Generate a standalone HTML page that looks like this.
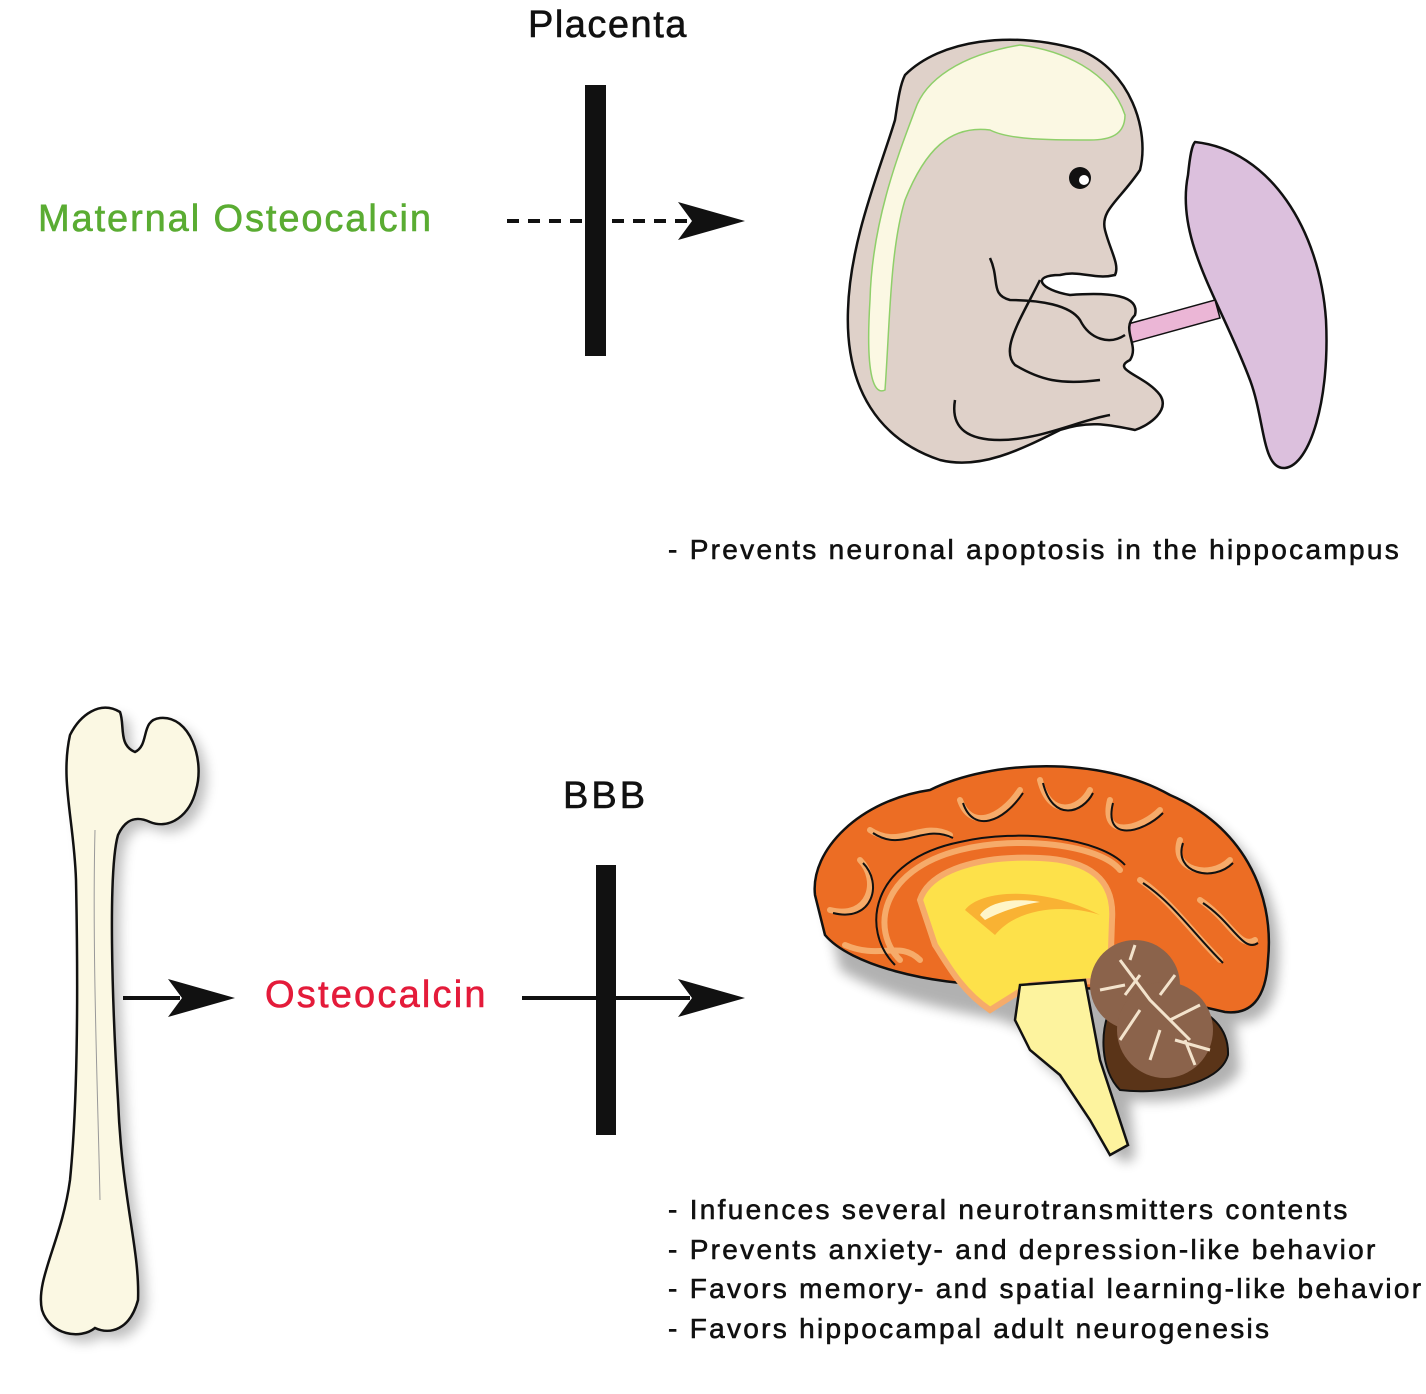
<!DOCTYPE html>
<html><head><meta charset="utf-8"><style>
html,body{margin:0;padding:0;background:#fff}
body{width:1426px;height:1394px;position:relative;overflow:hidden;font-family:"Liberation Sans",sans-serif}
.t{position:absolute;white-space:nowrap;-webkit-text-stroke:0.6px currentColor}
.lst{position:absolute;left:668px;font-size:28px;color:#111;letter-spacing:2.3px;line-height:39.5px;white-space:nowrap;-webkit-text-stroke:0.6px #111}
</style></head><body>
<svg width="1426" height="1394" style="position:absolute;left:0;top:0">
<defs><filter id="sh" x="-20%" y="-20%" width="140%" height="140%"><feGaussianBlur stdDeviation="6"/></filter></defs>
<rect x="585" y="85" width="21" height="271" fill="#111"/>
<line x1="507" y1="221" x2="690" y2="221" stroke="#111" stroke-width="4" stroke-dasharray="12,9"/>
<path d="M745,221 L678,202 L692,221 L678,240 Z" fill="#111"/>
<path d="M1195,142 C1270,150 1320,230 1326,320 C1330,400 1310,465 1285,468 C1262,470 1265,420 1250,380 C1220,300 1175,240 1188,175 C1190,155 1192,145 1195,142 Z" fill="#dcc0dd" stroke="#111" stroke-width="2.5"/>
<path d="M1070,340 L1215,300 L1220,318 L1075,358 Z" fill="#ebb6d6" stroke="#111" stroke-width="1.5"/>
<path d="M905,75 C940,40 1010,30 1080,50 C1130,70 1150,130 1140,170 C1120,200 1100,210 1105,230 C1110,250 1120,265 1115,275 C1095,280 1080,270 1060,275 C1030,275 1040,290 1070,295 C1110,292 1140,295 1135,315 C1120,330 1140,345 1130,360 C1110,370 1145,375 1160,395 C1170,410 1150,425 1135,430 C1110,425 1090,420 1060,430 C1020,450 980,470 940,460 C880,440 845,390 848,310 C850,240 880,170 895,120 C898,100 900,85 905,75 Z" fill="#dfd1c9" stroke="#111" stroke-width="2.5"/>
<path d="M870,300 C872,220 900,150 915,110 C925,80 960,55 1020,45 C1060,50 1110,70 1125,115 C1125,135 1110,140 1090,140 C1050,140 1010,140 990,130 C950,125 925,150 905,200 C890,250 890,320 885,390 C875,395 865,380 870,300 Z" fill="#fbf8e3" stroke="#8fcf6a" stroke-width="1.5"/>
<path d="M1040,280 C1020,320 1000,350 1015,365 C1040,380 1060,385 1100,380" fill="none" stroke="#111" stroke-width="2.5"/>
<path d="M955,400 C950,430 970,440 1000,440 C1040,440 1080,420 1110,415" fill="none" stroke="#111" stroke-width="2.5"/>
<path d="M990,258 C1000,280 990,295 1010,300 C1040,300 1070,305 1080,320 C1090,340 1110,345 1125,335" fill="none" stroke="#111" stroke-width="2.5"/>
<circle cx="1080" cy="178" r="11" fill="#111"/><circle cx="1084" cy="180" r="5" fill="#fff"/>
<rect x="596" y="865" width="20" height="270" fill="#111"/>
<line x1="522" y1="998" x2="690" y2="998" stroke="#111" stroke-width="4"/>
<path d="M745,998 L678,979 L692,998 L678,1017 Z" fill="#111"/>
<line x1="123" y1="998" x2="180" y2="998" stroke="#111" stroke-width="4"/>
<path d="M235,998 L168,979 L182,998 L168,1017 Z" fill="#111"/>
<path d="M70,735 C80,715 100,700 120,712 C125,725 118,745 135,752 C150,745 140,720 160,718 C190,715 205,760 196,790 C190,815 170,830 150,822 C135,815 125,820 118,835 C108,870 112,1000 118,1100 C122,1200 140,1250 138,1300 C130,1330 110,1335 95,1328 C80,1340 50,1335 42,1310 C35,1280 62,1240 70,1180 C78,1100 78,980 76,880 C74,820 60,780 70,735 Z" fill="#000" opacity="0.25" filter="url(#sh)" transform="translate(8,8)"/>
<path d="M70,735 C80,715 100,700 120,712 C125,725 118,745 135,752 C150,745 140,720 160,718 C190,715 205,760 196,790 C190,815 170,830 150,822 C135,815 125,820 118,835 C108,870 112,1000 118,1100 C122,1200 140,1250 138,1300 C130,1330 110,1335 95,1328 C80,1340 50,1335 42,1310 C35,1280 62,1240 70,1180 C78,1100 78,980 76,880 C74,820 60,780 70,735 Z" fill="#fbf8e3" stroke="#111" stroke-width="2.5"/>
<path d="M95,830 C92,950 98,1100 100,1200" fill="none" stroke="#999" stroke-width="1"/>
<g>
<path d="M815,895 C810,850 860,800 930,790 C990,760 1100,755 1170,795 C1240,825 1275,890 1268,960 C1266,1000 1250,1015 1225,1012 L1230,1060 C1220,1085 1160,1095 1120,1090 L1125,1145 C1120,1158 1105,1152 1095,1130 L1060,1075 L1030,1050 L1015,1020 L990,1010 C940,1000 880,990 830,960 Z" fill="#000" opacity="0.3" filter="url(#sh)" transform="translate(10,10)"/>
<path d="M815,895 C810,850 860,800 930,790 C990,760 1100,755 1170,795 C1240,825 1275,890 1268,960 C1266,1000 1250,1015 1225,1012 L1130,990 L1000,985 C930,985 850,965 825,935 Z" fill="#ec6d24" stroke="#111" stroke-width="2.5"/>
<g fill="none" stroke="#f6ab6a" stroke-width="6" stroke-linecap="round">
<path d="M830,910 C870,920 880,880 860,860 M870,830 C900,850 920,820 950,835 M960,800 C970,830 1000,820 1020,790 M1040,780 C1050,820 1080,810 1090,790 M1110,800 C1100,840 1140,830 1160,810 M1180,840 C1170,870 1210,880 1230,860 M1200,900 C1230,920 1240,950 1255,940 M1140,880 C1170,900 1190,930 1220,960 M845,945 C880,960 900,940 920,960"/>
<path d="M900,960 C870,930 880,870 960,850 C1020,835 1100,845 1120,870"/>
</g>
<g fill="none" stroke="#111" stroke-width="2">
<path d="M830,910 C870,920 880,880 860,860 M870,830 C900,850 920,820 950,835 M960,800 C970,830 1000,820 1020,790 M1040,780 C1050,820 1080,810 1090,790 M1110,800 C1100,840 1140,830 1160,810 M1180,840 C1170,870 1210,880 1230,860 M1200,900 C1230,920 1240,950 1255,940 M1140,880 C1170,900 1190,930 1220,960" transform="translate(3,3)"/>
<path d="M895,965 C860,930 870,860 960,842 C1020,828 1100,838 1125,865"/>
</g>
<path d="M920,900 C930,870 980,855 1040,858 C1090,860 1115,880 1112,920 L1110,980 L1030,985 L990,1010 C960,990 945,960 935,945 Z" fill="#fde14a" stroke="#f6ab6a" stroke-width="6"/>
<path d="M965,910 C980,890 1040,885 1100,915 C1070,905 1020,905 995,935 Z" fill="#f9b233"/>
<path d="M980,915 C990,900 1020,898 1040,902 C1020,905 1000,912 985,920 Z" fill="#fff5c8"/>
<path d="M1020,985 L1085,980 L1100,1060 L1128,1145 L1110,1155 L1090,1120 L1060,1075 L1030,1050 L1015,1020 Z" fill="#fdf39e" stroke="#111" stroke-width="2.5"/>
<path d="M1110,1010 C1150,990 1230,1000 1228,1055 C1220,1085 1160,1095 1120,1090 C1100,1070 1100,1030 1110,1010 Z" fill="#5a3418" stroke="#111" stroke-width="2"/>
<circle cx="1135" cy="985" r="45" fill="#8b634b"/>
<circle cx="1165" cy="1030" r="48" fill="#8b634b"/>
<path d="M1120,960 L1150,1000 L1190,1040 M1140,975 L1125,995 M1170,1020 L1200,1005 M1160,1030 L1150,1060 M1185,1040 L1195,1065 M1130,960 L1135,945 M1100,990 L1125,985 M1175,1040 L1210,1050 M1140,1010 L1120,1040 M1160,995 L1175,975" stroke="#f3e3cc" stroke-width="3" fill="none"/>
</g>
</svg>
<div class="t" style="left:528px;top:4px;font-size:38px;color:#111;letter-spacing:1.5px">Placenta</div>
<div class="t" style="left:38px;top:198px;font-size:38px;color:#5aac32;letter-spacing:1.9px">Maternal Osteocalcin</div>
<div class="lst" style="top:530px">- Prevents neuronal apoptosis in the hippocampus</div>
<div class="t" style="left:563px;top:775px;font-size:38px;color:#111;letter-spacing:3px">BBB</div>
<div class="t" style="left:265px;top:974px;font-size:38px;color:#e41b3a;letter-spacing:2.2px">Osteocalcin</div>
<div class="lst" style="top:1190px">- Infuences several neurotransmitters contents<br>- Prevents anxiety- and depression-like behavior<br>- Favors memory- and spatial learning-like behavior<br>- Favors hippocampal adult neurogenesis</div>
</body></html>
